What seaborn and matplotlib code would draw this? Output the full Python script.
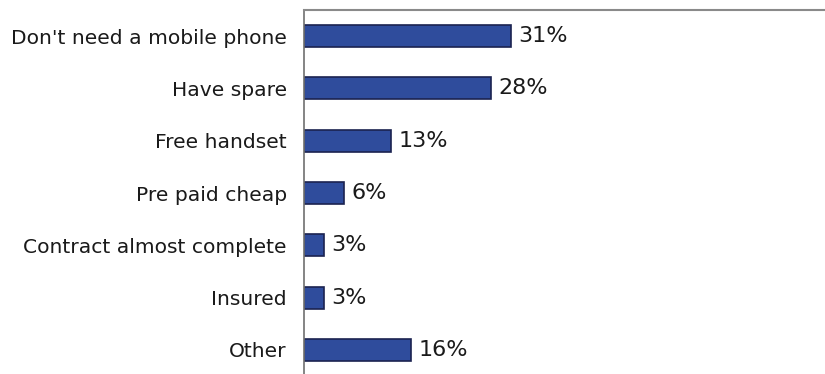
import matplotlib
matplotlib.use("Agg")
import matplotlib.pyplot as plt
import seaborn as sns
import pandas as pd

# Reasons for not upgrading / replacing a mobile phone (share of respondents)
reasons = [
    "Don't need a mobile phone",
    "Have spare",
    "Free handset",
    "Pre paid cheap",
    "Contract almost complete",
    "Insured",
    "Other",
]
shares = [31, 28, 13, 6, 3, 3, 16]

df = pd.DataFrame({"reason": reasons, "share": shares})

sns.set_theme(style="white")
plt.rcParams["font.family"] = ["DejaVu Sans"]

fig = plt.figure(figsize=(8.25, 3.74), dpi=100)
ax = fig.add_axes([304 / 825, -2 / 374, 560 / 825, 366 / 374])

sns.barplot(
    data=df, x="share", y="reason", orient="h", ax=ax,
    color="#2f4c9c", saturation=1, width=0.42,
    edgecolor="#1b2350", linewidth=1.2,
)

for container in ax.containers:
    ax.bar_label(container, labels=[f"{v}%" for v in shares],
                 padding=5.5, fontsize=16, color="#1a1a1a")

ax.set_xlim(0, 84)
ax.set_xlabel("")
ax.set_ylabel("")
ax.set_xticks([])
ax.tick_params(axis="y", length=0, pad=12.5, labelsize=14.6, labelcolor="#1a1a1a")

for side in ("right", "bottom"):
    ax.spines[side].set_visible(False)
ax.spines["left"].set_color("#707070")
ax.spines["left"].set_linewidth(1.2)
ax.spines["top"].set_color("#8a8a8a")
ax.spines["top"].set_linewidth(1.5)

fig.savefig("out.png", dpi=100, facecolor="white")
